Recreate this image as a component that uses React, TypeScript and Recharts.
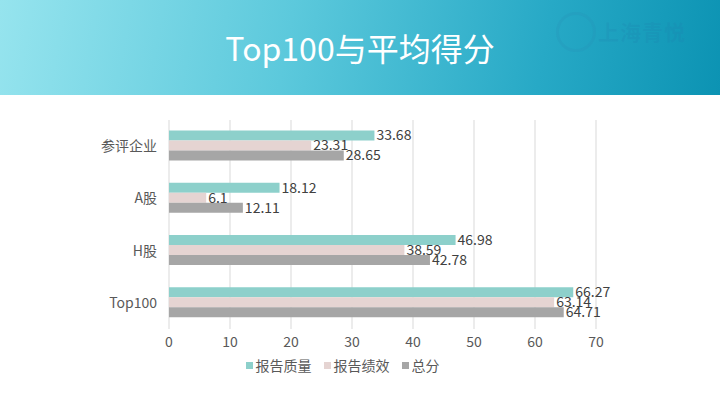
import React from "react";
import { BarChart, Bar, XAxis, YAxis, CartesianGrid, Legend, LabelList } from "recharts";

const categories = ["参评企业", "A股", "H股", "Top100"];
const quality = [33.68, 18.12, 46.98, 66.27];
const performance = [23.31, 6.1, 38.59, 63.14];
const total = [28.65, 12.11, 42.78, 64.71];
const xTicks = [0, 10, 20, 30, 40, 50, 60, 70];
const seriesNames = ["报告质量", "报告绩效", "总分"];
const colors = ["#8DD0CB", "#E5D4D2", "#A6A6A6"];

const data = categories.map((name, i) => ({
  name,
  quality: quality[i],
  performance: performance[i],
  total: total[i],
}));

const FONT = "'Noto Sans CJK SC', 'Noto Sans', sans-serif";

const LegendContent = (props: any) => {
  const payload = (props.payload || []).slice();
  payload.sort((a: any, b: any) => seriesNames.indexOf(a.value) - seriesNames.indexOf(b.value));
  return (
    <div style={{ display: "flex", justifyContent: "center", gap: 12, fontSize: 14, color: "#595959", fontFamily: FONT, lineHeight: "20px" }}>
      {payload.map((p: any) => (
        <div key={p.value} style={{ display: "flex", alignItems: "center" }}>
          <span style={{ display: "inline-block", width: 7, height: 7, background: p.color, marginRight: 3 }} />
          <span>{p.value}</span>
        </div>
      ))}
    </div>
  );
};

export default function App() {
  const keys = ["quality", "performance", "total"];
  return (
    <div style={{ position: "absolute", left: 0, top: 0, width: 720, height: 405, background: "#fff", overflow: "hidden", fontFamily: FONT }}>
      <div
        style={{
          position: "absolute",
          left: 0,
          top: 0,
          width: 720,
          height: 95,
          background: "linear-gradient(100deg, #96E4EE 0%, #5CC9DC 40%, #27A9C6 75%, #0C93B3 100%)",
        }}
      />
      <div style={{ position: "absolute", left: 556, top: 12, width: 40, height: 40, borderRadius: 20, border: "3px solid rgba(40,140,180,0.2)", boxSizing: "border-box" }} />
      <div style={{ position: "absolute", left: 598, top: 16, fontSize: 21, color: "rgba(30,130,175,0.22)", fontWeight: 700, letterSpacing: 1 }}>上海青悦</div>
      <div style={{ position: "absolute", left: 0, top: 23, width: 720, textAlign: "center", color: "#fff", fontSize: 32, lineHeight: "48px" }}>
        Top100与平均得分
      </div>
      <div style={{ position: "absolute", left: 0, top: 0 }}>
        <BarChart
          width={720}
          height={405}
          data={data}
          layout="vertical"
          margin={{ top: 120, right: 124, bottom: 30, left: 89 }}
          barCategoryGap="20%"
          barGap={0}
        >
          <CartesianGrid horizontal={false} stroke="#D9D9D9" />
          <XAxis
            type="number"
            domain={[0, 70]}
            ticks={xTicks}
            axisLine={false}
            tickLine={false}
            tick={{ fill: "#595959", fontSize: 14, fontFamily: FONT }}
            height={26}
          />
          <YAxis
            type="category"
            dataKey="name"
            axisLine={false}
            tickLine={false}
            width={80}
            tickMargin={6}
            tick={{ fill: "#595959", fontSize: 14, fontFamily: FONT }}
          />
          <Legend verticalAlign="bottom" align="center" content={<LegendContent />} />
          {keys.map((k, i) => (
            <Bar key={k} dataKey={k} name={seriesNames[i]} fill={colors[i]} isAnimationActive={false}>
              <LabelList dataKey={k} position="right" offset={2} fill="#404040" fontSize={14} fontFamily={FONT} />
            </Bar>
          ))}
        </BarChart>
      </div>
    </div>
  );
}
